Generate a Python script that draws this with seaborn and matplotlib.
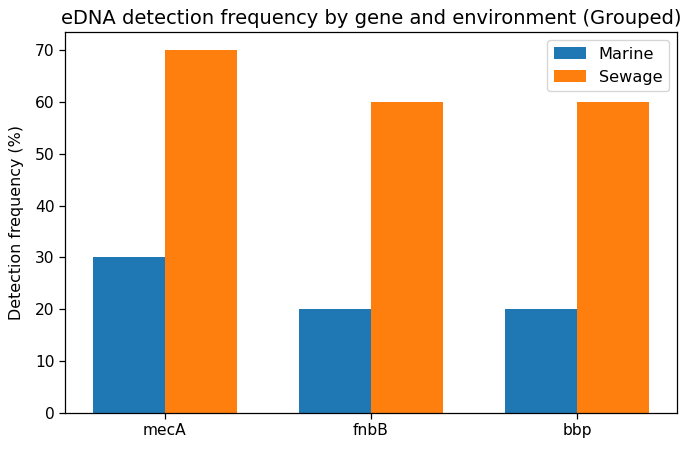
import matplotlib
matplotlib.use("Agg")
import matplotlib.pyplot as plt
import seaborn as sns
import pandas as pd

genes = ["mecA", "fnbB", "bbp"]
marine = [30, 20, 20]
sewage = [70, 60, 60]
environments = ["Marine", "Sewage"]

df = pd.DataFrame({
    "gene": genes * 2,
    "env": [environments[0]] * 3 + [environments[1]] * 3,
    "freq": marine + sewage,
})

fig, ax = plt.subplots(figsize=(6.88, 4.51), dpi=100)
sns.barplot(data=df, x="gene", y="freq", hue="env", order=genes,
            hue_order=environments, palette=["#1f77b4", "#ff7f0e"],
            width=0.7, gap=0, saturation=1, errorbar=None, ax=ax)
ax.set_title("eDNA detection frequency by gene and environment (Grouped)", fontsize=14.0)
ax.set_xlabel("")
ax.set_ylabel("Detection frequency (%)", fontsize=11.4, labelpad=8)
ax.tick_params(labelsize=11.2, length=4, width=0.9)
ax.set_ylim(0, 73.5)
ax.set_xlim(-0.485, 2.485)
ax.legend(title=None, loc="upper right", fontsize=11.6)
for s in ax.spines.values():
    s.set_linewidth(0.9)
fig.subplots_adjust(left=0.0945, right=0.984, top=0.929, bottom=0.0843)
fig.savefig("out.png")
